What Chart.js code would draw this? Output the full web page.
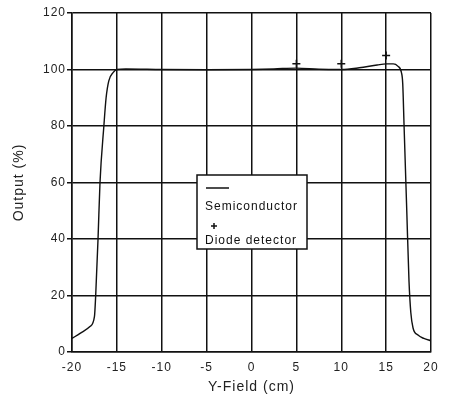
<!DOCTYPE html>
<html>
<head>
<meta charset="utf-8">
<script src="https://cdn.jsdelivr.net/npm/chart.js@4.4.1/dist/chart.umd.min.js"></script>
<style>
  html, body { margin: 0; padding: 0; background: #fff; }
  #wrap { width: 451px; height: 399px; }
</style>
</head>
<body>
<div id="wrap"><canvas id="profileChart" width="451" height="399"></canvas></div>
<script>
// Semiconductor profile
var semiX = [-20, -19.1, -18.0, -17.5, -17.36, -17.1, -16.88, -16.45, -16.2, -15.9, -15.4, -15.0, -14.0, -10, -5, 0, 2.5, 5, 7.5, 10, 12, 14, 15, 15.8, 16.3, 16.7, 16.85, 17.0, 17.3, 17.55, 17.75, 18.0, 18.55, 19.2, 20];
var semiY = [4.8, 6.6, 9, 12.5, 20, 40, 60, 80, 90, 96, 99, 100, 100.2, 100, 99.9, 100, 100.2, 100.5, 100.1, 100, 100.6, 101.6, 102, 102, 101.2, 99, 95, 80, 50, 25, 14, 8.5, 6, 4.8, 4];

// Diode detector measurements
var diodeX = [5, 10, 15];
var diodeY = [102, 102, 105];

var xTicks = [-20, -15, -10, -5, 0, 5, 10, 15, 20];
var yTicks = [0, 20, 40, 60, 80, 100, 120];

var semiData = [];
for (var i = 0; i < semiX.length; i++) {
    semiData.push({ x: semiX[i], y: semiY[i] });
}
var diodeData = [];
for (var j = 0; j < diodeX.length; j++) {
    diodeData.push({ x: diodeX[j], y: diodeY[j] });
}

var fontFam = '"Liberation Sans", Arial, Helvetica, sans-serif';

// the scanned lettering is spaced out, so widen it a little
var wideText = {
    id: 'wideText',
    beforeUpdate: function(chart) { chart.ctx.letterSpacing = '1px'; },
    beforeDraw: function(chart) { chart.ctx.letterSpacing = '1px'; }
};

// Legend drawn as a boxed key inside the plot
var boxLegend = {
    id: 'boxLegend',
    afterDatasetsDraw: function(chart) {
        var ctx = chart.ctx;
        var x0 = 197, y0 = 175, w = 110, h = 74;
        ctx.save();
        ctx.fillStyle = '#fff';
        ctx.fillRect(x0, y0, w, h);
        ctx.strokeStyle = '#111';
        ctx.lineWidth = 1.5;
        ctx.strokeRect(x0, y0, w, h);
        // line sample
        ctx.beginPath();
        ctx.moveTo(206, 188);
        ctx.lineTo(229, 188);
        ctx.stroke();
        ctx.fillStyle = '#111';
        ctx.font = '12px ' + fontFam;
        ctx.letterSpacing = '1px';
        ctx.textBaseline = 'middle';
        ctx.fillText('Semiconductor', 205, 207);
        // cross sample
        ctx.beginPath();
        ctx.moveTo(211, 226);
        ctx.lineTo(217, 226);
        ctx.moveTo(214, 223);
        ctx.lineTo(214, 229);
        ctx.stroke();
        ctx.fillText('Diode detector', 205, 241);
        ctx.restore();
    }
};

var ctx = document.getElementById('profileChart').getContext('2d');
var chart = new Chart(ctx, {
    type: 'scatter',
    data: {
        datasets: [
            {
                label: 'Semiconductor',
                data: semiData,
                showLine: true,
                borderColor: '#111',
                borderWidth: 1.4,
                pointRadius: 0,
                cubicInterpolationMode: 'monotone',
                fill: false
            },
            {
                label: 'Diode detector',
                data: diodeData,
                showLine: false,
                pointStyle: 'cross',
                pointRadius: 4,
                borderColor: '#111',
                borderWidth: 1.5,
                backgroundColor: '#111'
            }
        ]
    },
    options: {
        responsive: false,
        animation: false,
        layout: { padding: { left: 0, top: 13, right: 20, bottom: 0 } },
        plugins: {
            legend: { display: false },
            tooltip: { enabled: false }
        },
        scales: {
            x: {
                type: 'linear',
                min: -20,
                max: 20,
                afterBuildTicks: function(scale) {
                    scale.ticks = xTicks.map(function(v) { return { value: v }; });
                },
                grid: { color: '#111', lineWidth: 1.5, drawTicks: false },
                border: { color: '#111', width: 1.5 },
                ticks: { color: '#222', font: { family: fontFam, size: 12 }, padding: 8, maxRotation: 0 },
                title: { display: true, text: 'Y-Field (cm)', color: '#222', font: { family: fontFam, size: 14 }, padding: { top: 2, bottom: 3 } },
                afterFit: function(scale) { scale.height = 47; }
            },
            y: {
                type: 'linear',
                min: 0,
                max: 120,
                afterBuildTicks: function(scale) {
                    scale.ticks = yTicks.map(function(v) { return { value: v }; });
                },
                grid: { color: '#111', lineWidth: 1.5, tickLength: 5, drawTicks: true },
                border: { color: '#111', width: 1.5 },
                ticks: { color: '#222', font: { family: fontFam, size: 12 }, padding: 1 },
                title: { display: true, text: 'Output (%)', color: '#222', font: { family: fontFam, size: 14 }, padding: { top: 11, bottom: 8 } },
                afterFit: function(scale) { scale.width = 72; }
            }
        }
    },
    plugins: [wideText, boxLegend]
});
</script>
</body>
</html>
